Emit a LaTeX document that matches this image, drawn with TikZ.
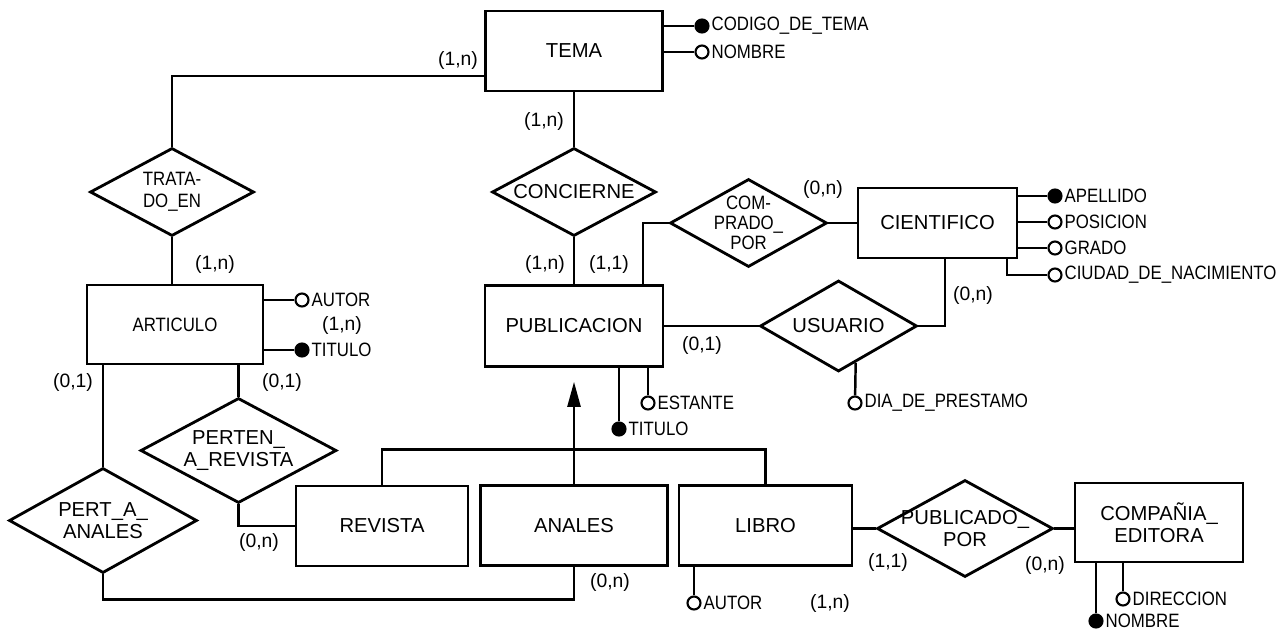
\documentclass[tikz,border=0pt]{standalone}
\usepackage{fontspec}
\setmainfont{Liberation Sans}
\newfontfamily\attrfont{Liberation Sans}[FakeStretch=0.87]
\usetikzlibrary{shapes.geometric, arrows.meta, positioning}
\tikzset{
	entity/.style={rectangle, draw=black, line width=1.5pt, minimum width=3.5cm, minimum height=1.6cm, inner sep=0pt, align=center, font=\fontsize{11.5}{12.5}\selectfont},
	relation/.style={diamond, draw=black, line width=1.6pt, inner sep=-0.4cm, align=center, font=\fontsize{11.5}{12.5}\selectfont},
	link/.style={line width=1.4pt},
	isarrow/.style={-{Triangle[length=0.5cm, width=0.26cm]}, line width=1.4pt},
	% attribute helpers
	attr/.style={circle, draw=black, line width=1.2pt, fill=#1, inner sep=0pt, minimum size=0.26cm, label distance=0.03cm},
	atxt/.style={font=\attrfont\fontsize{11}{12}\selectfont, inner sep=1pt},
	card/.style={font=\fontsize{11}{12}\selectfont, inner sep=0pt},
}
\begin{document}
\begin{tikzpicture}
	\useasboundingbox (0,0) rectangle (25.7,12.66);
	% entities
	\node[entity, minimum width=3.54cm] (tema) at (11.48,11.64) {TEMA};
	\node[entity, minimum width=3.52cm, minimum height=1.58cm, font=\attrfont\fontsize{11}{12}\selectfont] (articulo) at (3.5,6.17) {ARTICULO};
	\node[entity, minimum width=3.56cm, minimum height=1.62cm] (publicacion) at (11.48,6.14) {PUBLICACION};
	\node[entity, minimum width=3.18cm, minimum height=1.4cm] (cientifico) at (18.75,8.2) {CIENTIFICO};
	\node[entity, minimum width=3.44cm] (revista) at (7.64,2.14) {REVISTA};
	\node[entity, minimum width=3.74cm] (anales) at (11.48,2.15) {ANALES};
	\node[entity, minimum width=3.46cm] (libro) at (15.31,2.15) {LIBRO};
	\node[entity, minimum width=3.36cm, minimum height=1.58cm] (compania) at (23.18,2.21) {COMPAÑIA\_\\EDITORA};
	% relationships
	\node[relation, minimum width=3.28cm, minimum height=1.76cm, font=\attrfont\fontsize{11}{12.5}\selectfont] (tratado) at (3.44,8.82) {TRATA-\\DO\_EN};
	\node[relation, minimum width=3.28cm, minimum height=1.76cm] (concierne) at (11.48,8.82) {CONCIERNE};
	\node[relation, minimum width=3.14cm, minimum height=1.76cm, font=\attrfont\fontsize{11}{11.5}\selectfont] (comprado) at (14.97,8.2) {COM-\\PRADO\_\\POR};
	\node[relation, minimum width=3.14cm, minimum height=1.82cm] (usuario) at (16.77,6.14) {USUARIO};
	\node[relation, minimum width=3.92cm, minimum height=2.1cm] (pertenrev) at (4.77,3.65) {PERTEN\_\\A\_REVISTA};
	\node[relation, minimum width=3.76cm, minimum height=2.1cm] (pertanales) at (2.06,2.25) {PERT\_A\_\\ANALES};
	\node[relation, minimum width=3.52cm, minimum height=1.94cm] (publicado) at (19.3,2.09) {PUBLICADO\_\\POR};
	% connectors
	\draw[link] ([yshift=-0.5cm]tema.west) -| (tratado.north);
	\draw[link] (tratado.south) -- (tratado.south |- articulo.north);
	\draw[link] (tema.south) -- (concierne.north);
	\draw[link] (concierne.south) -- (publicacion.north);
	\draw[link] ([xshift=1.38cm]publicacion.north) |- (comprado.west);
	\draw[link] (comprado.east) -- (cientifico.west);
	\draw[link] (publicacion.east) -- (usuario.west);
	\draw[link] (usuario.east) -| ([xshift=0.15cm]cientifico.south);
	\draw[link] (pertanales.north) -- (pertanales.north |- articulo.south);
	\draw[link] (pertenrev.north) -- (pertenrev.north |- articulo.south);
	\draw[link] (pertenrev.south) |- (revista.west);
	\draw[link] (pertanales.south) -- ++(0,-0.5) -| (anales.south);
	\draw[link] (revista.north) -- ++(0,0.7) -| (libro.north);
	\draw[isarrow, shorten >=0.28cm] (anales.north) -- (publicacion.south);
	\draw[link] (publicado.west -| libro.east) -- (publicado.west);
	\draw[link] (publicado.east) -- (publicado.east -| compania.west);
	% cardinalities
	\foreach \x/\y/\txt [count=\i] in {9.16/11.46/{(1,n)}, 10.88/10.24/{(1,n)}, 4.3/7.38/{(1,n)}, 10.9/7.38/{(1,n)}, 12.18/7.38/{(1,1)}, 16.46/8.88/{(0,n)}, 14.04/5.76/{(0,1)}, 19.46/6.76/{(0,n)}, 6.84/6.16/{(1,n)}, 1.46/5.02/{(0,1)}, 5.64/5.02/{(0,1)}, 5.18/1.82/{(0,n)}, 12.2/1.02/{(0,n)}, 16.6/0.6/{(1,n)}, 17.76/1.42/{(1,1)}, 20.9/1.36/{(0,n)}} {
		\node[card] (card\i) at (\x,\y) {\txt};
	}
	% attributes
	\node[attr=black, label={[atxt]right:CODIGO\_DE\_TEMA}] (codigo) at (14.04,12.14) {};
	\node[attr=white, label={[atxt]right:NOMBRE}] (nombretema) at (14.04,11.62) {};
	\draw[link] (codigo) -- (codigo -| tema.east);
	\draw[link] (nombretema) -- (nombretema -| tema.east);
	\node[attr=white, label={[atxt]right:AUTOR}] (autorart) at (6.04,6.66) {};
	\node[attr=black, label={[atxt]right:TITULO}] (tituloart) at (6.04,5.66) {};
	\draw[link] (autorart) -- (autorart -| articulo.east);
	\draw[link] (tituloart) -- (tituloart -| articulo.east);
	\node[attr=white, label={[atxt]right:ESTANTE}] (estante) at (12.96,4.6) {};
	\node[attr=black, label={[atxt]right:TITULO}] (titulopub) at (12.38,4.08) {};
	\draw[link] (estante) -- (estante |- publicacion.south);
	\draw[link] (titulopub) -- (titulopub |- publicacion.south);
	\foreach \nom/\yy/\col in {APELLIDO/8.74/black, POSICION/8.22/white, GRADO/7.7/white} {
		\node[attr=\col, label={[atxt]right:\nom}] (c\nom) at (21.1,\yy) {};
		\draw[link] (c\nom) -- (c\nom -| cientifico.east);
	}
	\node[attr=white, label={[atxt]right:CIUDAD\_DE\_NACIMIENTO}] (ciudad) at (21.1,7.16) {};
	\draw[link] (ciudad) -| ([xshift=1.39cm]cientifico.south);
	\node[attr=white, label={[atxt]right:DIA\_DE\_PRESTAMO}] (dia) at (17.1,4.6) {};
	\draw[link] (dia) -- (usuario.-65);
	\node[attr=white, label={[atxt]right:AUTOR}] (autorlib) at (13.88,0.6) {};
	\draw[link] (autorlib) -- (autorlib |- libro.south);
	\node[attr=black, label={[atxt]right:NOMBRE}] (nombreed) at (21.92,0.24) {};
	\node[attr=white, label={[atxt]right:DIRECCION}] (direccion) at (22.46,0.68) {};
	\draw[link] (nombreed) -- (nombreed |- compania.south);
	\draw[link] (direccion) -- (direccion |- compania.south);
\end{tikzpicture}
\end{document}
